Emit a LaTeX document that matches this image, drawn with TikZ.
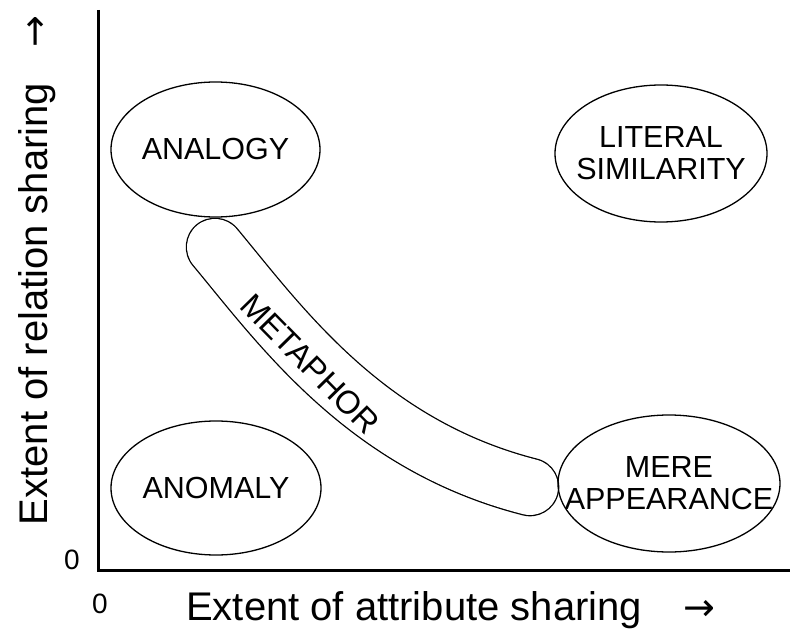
\documentclass[tikz,border=0pt]{standalone}
\usepackage{fontspec}
\setmainfont{Liberation Sans}
\newfontfamily\arrowfont{DejaVu Sans}
\usetikzlibrary{shapes.geometric,positioning}

\tikzset{
  region/.style={draw, ellipse, line width=1.3pt, inner sep=0pt},
  tag/.style={font=\fontsize{30.5}{32}\selectfont, align=center, inner sep=0pt},
  axislabel/.style={font=\fontsize{40}{44}\selectfont, inner sep=0pt},
  arrowlabel/.style={font=\arrowfont\fontsize{38}{40}\selectfont, inner sep=0pt},
  zerolabel/.style={font=\fontsize{28}{30}\selectfont, inner sep=0pt},
  band/.style={draw, line width=1.3pt, double=white, double distance=56pt, line cap=round},
  axis/.style={line width=3pt}
}

\begin{document}
\begin{tikzpicture}[x=1pt,y=1pt]
		\useasboundingbox (0,0) rectangle (790,-631);
		% axes
		\coordinate (ytop) at (98,-10);
		\coordinate (xend) at (790,-570);
		\draw [axis] (ytop) |- (xend);
		\node [zerolabel] (yzero) at (72,-560) {0};
		\node [zerolabel] (xzero) at (100,-604) {0};
		\node [axislabel, rotate=90, anchor=base] (ylab) at (47,-304) {Extent of relation sharing};
		\node [arrowlabel, rotate=90, anchor=base west] (yarrow) at (47,-48) {→};
		\node [axislabel, anchor=base west] (xlab) at (186,-620) {Extent of attribute sharing};
		\node [arrowlabel, anchor=base west] (xarrow) at (683,-620) {→};
		% metaphor band
		\coordinate (mstart) at (215,-247);
		\coordinate (mend) at (530,-487);
		\draw [band] (mstart) .. controls (280,-325) and (365,-445) .. (mend);
		\node [tag, font=\fontsize{32.5}{34}\selectfont, rotate=-45.5] (metaphor) at (310,-364) {METAPHOR};
		% the four regions
		\node [region, minimum width=209pt, minimum height=135pt] (analogy) at (215.5,-149.5) {};
		\node [tag] (analogytxt) at (analogy.center) {ANALOGY};
		\node [region, minimum width=210pt, minimum height=134pt] (anomaly) at (216,-488) {};
		\node [tag] (anomalytxt) at (anomaly.center) {ANOMALY};
		\node [region, minimum width=212pt, minimum height=137pt] (literal) at (661,-153.5) {};
		\node [tag] (literaltxt) at (literal.center) {LITERAL\\SIMILARITY};
		\node [region, minimum width=222pt, minimum height=137pt] (mere) at (669,-483.5) {};
		\node [tag] (meretxt) at (mere.center) {MERE\\APPEARANCE};
\end{tikzpicture}
\end{document}
